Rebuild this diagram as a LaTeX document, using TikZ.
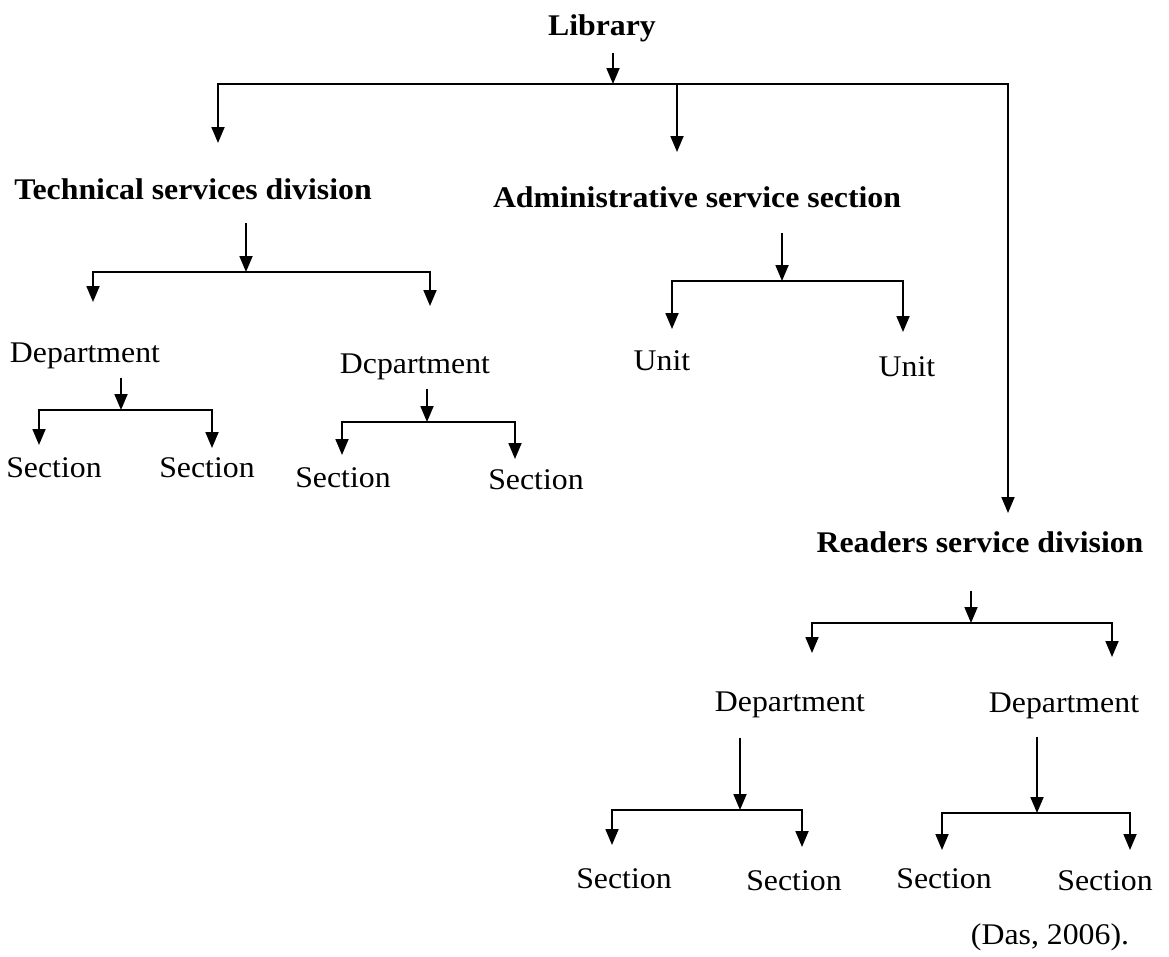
\documentclass[tikz,border=0pt]{standalone}
\usepackage{fontspec}
\setmainfont{Liberation Serif}[FakeStretch=1.06]
\usetikzlibrary{arrows.meta}

\begin{document}
\begin{tikzpicture}[x=1pt,y=-1pt,
    arr/.style={-{Triangle[width=13pt,length=16pt]},line width=1.8pt},
    hd/.style={font=\fontsize{30}{36}\selectfont\bfseries,inner sep=0pt,anchor=base},
    lbl/.style={font=\fontsize{30}{36}\selectfont,inner sep=0pt,anchor=base}]
    \useasboundingbox (0,0) rectangle (1169,956);

    % divisions
    \node[hd] (lib) at (602,35) {Library};
    \node[hd] (tech) at (193,199) {Technical services division};
    \node[hd] (admin) at (697,207) {Administrative service section};
    \node[hd] (read) at (980,552) {Readers service division};

    % lower levels
    \node[lbl] (dep1) at (85,362) {Department};
    \node[lbl] (dep2) at (415,373) {Dcpartment};
    \node[lbl] (unit1) at (662,370) {Unit};
    \node[lbl] (unit2) at (907,376) {Unit};
    \node[lbl] (sec1) at (54,477) {Section};
    \node[lbl] (sec2) at (207,477) {Section};
    \node[lbl] (sec3) at (343,487) {Section};
    \node[lbl] (sec4) at (536,489) {Section};
    \node[lbl] (dep3) at (790,711) {Department};
    \node[lbl] (dep4) at (1064,712) {Department};
    \node[lbl] (sec5) at (624,888) {Section};
    \node[lbl] (sec6) at (794,890) {Section};
    \node[lbl] (sec7) at (944,888) {Section};
    \node[lbl] (sec8) at (1105,890) {Section};
    \node[lbl] (src) at (1050,944) {(Das, 2006).};

    % library
    \coordinate (jlib) at (613,84);
    \coordinate (jmid) at (677,84);
    \draw[arr,shorten <=11pt] (lib.south -| jlib) -- (jlib);
    \draw[arr] (jlib) -| (218,143);
    \draw[arr] (jlib) -| (1008,513);
    \draw[arr] (jmid) -- (677,152);

    % technical services
    \coordinate (jtech) at (246,272);
    \draw[arr,shorten <=24pt] (tech.south -| jtech) -- (jtech);
    \draw[arr] (jtech) -| (93,302);
    \draw[arr] (jtech) -| (430,306);
    \coordinate (jdep1) at (121,410);
    \draw[arr,shorten <=9pt] (dep1.south -| jdep1) -- (jdep1);
    \draw[arr] (jdep1) -| (39,445);
    \draw[arr] (jdep1) -| (212,448);
    \coordinate (jdep2) at (427,422);
    \draw[arr,shorten <=9pt] (dep2.south -| jdep2) -- (jdep2);
    \draw[arr] (jdep2) -| (342,455);
    \draw[arr] (jdep2) -| (515,459);

    % administrative
    \coordinate (jadm) at (782,281);
    \draw[arr,shorten <=26pt] (admin.south -| jadm) -- (jadm);
    \draw[arr] (jadm) -| (672,329);
    \draw[arr] (jadm) -| (903,332);

    % readers
    \coordinate (jread) at (971,623);
    \draw[arr,shorten <=38pt] (read.south -| jread) -- (jread);
    \draw[arr] (jread) -| (812,653);
    \draw[arr] (jread) -| (1112,657);
    \coordinate (jdep3) at (740,810);
    \draw[arr,shorten <=20pt] (dep3.south -| jdep3) -- (jdep3);
    \draw[arr] (jdep3) -| (612,845);
    \draw[arr] (jdep3) -| (802,847);
    \coordinate (jdep4) at (1037,813);
    \draw[arr,shorten <=18pt] (dep4.south -| jdep4) -- (jdep4);
    \draw[arr] (jdep4) -| (942,850);
    \draw[arr] (jdep4) -| (1130,850);
\end{tikzpicture}
\end{document}
